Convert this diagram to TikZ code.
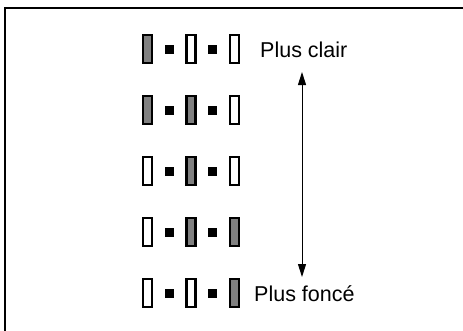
\documentclass[tikz,border=0pt]{standalone}
\usepackage{fontspec}
\setmainfont{Liberation Sans}
\usetikzlibrary{arrows.meta}

\tikzset{
    bar/.style={draw=black, line width=2.2pt, minimum width=9pt, minimum height=28pt, inner sep=0pt},
    dot/.style={fill=black, minimum size=9pt, inner sep=0pt},
    label text/.style={inner sep=0pt, anchor=base west, font=\fontsize{21.5}{26}\selectfont},
}

\begin{document}
\begin{tikzpicture}[x=1pt, y=-1pt]
    \useasboundingbox (0,0) rectangle (463,330);
    \clip (0,0) rectangle (463,330);

    % Frame (cut at the right and at the bottom)
    \draw[line width=1.5pt] (5,8) rectangle (480,350);

    % Rows of three bars, from light to dark
    \foreach \fa/\fb/\fc [count=\r] in {gray/white/white, gray/gray/white, white/gray/white, white/gray/gray, white/white/gray} {
        \pgfmathsetmacro{\yy}{49 + 61*(\r-1)}
        \node[bar, fill=\fa] (b\r-1) at (147.5,\yy) {};
        \node[dot] (d\r-1) at (169.5,\yy) {};
        \node[bar, fill=\fb] (b\r-2) at (191,\yy) {};
        \node[dot] (d\r-2) at (212.5,\yy) {};
        \node[bar, fill=\fc] (b\r-3) at (234.5,\yy) {};
    }

    % Labels
    \node[label text] (clair) at (260,57.5) {Plus clair};
    \node[label text] (fonce) at (254,301.5) {Plus foncé};

    % Double arrow
    \coordinate (up) at (302,72);
    \coordinate (down) at (302,277);
    \draw[line width=1pt, {Triangle[length=13pt,width=8pt]}-{Triangle[length=13pt,width=8pt]}] (up) -- (down);
\end{tikzpicture}
\end{document}
